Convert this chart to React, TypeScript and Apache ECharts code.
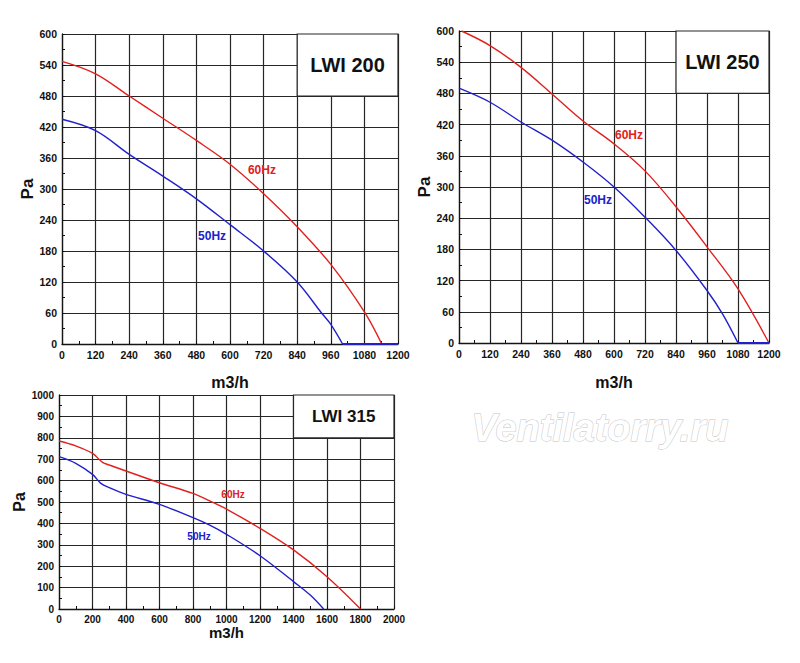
import React, { useEffect, useRef } from "react";
import * as echarts from "echarts";

const RED = "#e0211d";
const BLUE = "#2020cc";
const GRID_COLOR = "#262626";

// ---- LWI 200 ----
const lwi200Flow60 = [0, 120, 240, 360, 480, 600, 720, 840, 960, 1080, 1142];
const lwi200Pa60 = [547, 523, 480, 437, 394, 348, 291, 227, 154, 62, 0];
const lwi200Flow50 = [0, 120, 240, 360, 480, 600, 720, 840, 927, 960, 1002];
const lwi200Pa50 = [435, 413, 367, 325, 281, 231, 180, 120, 60, 38, 0];
const lwi200TailFlow50 = [1002, 1200];
const lwi200TailPa50 = [0, 0];
const lwi200Label60 = [714, 337];
const lwi200Label50 = [536, 209];

// ---- LWI 250 ----
const lwi250Flow60 = [10, 120, 240, 360, 480, 600, 720, 840, 960, 1080, 1200];
const lwi250Pa60 = [600, 572, 530, 479, 427, 383, 331, 262, 185, 104, 0];
const lwi250Flow50 = [0, 120, 240, 360, 480, 600, 720, 840, 960, 1020, 1080];
const lwi250Pa50 = [490, 463, 425, 390, 348, 300, 242, 178, 101, 56, 0];
const lwi250TailFlow50 = [1080, 1200];
const lwi250TailPa50 = [0, 0];
const lwi250Label60 = [658, 400];
const lwi250Label50 = [538, 275];

// ---- LWI 315 ----
const lwi315Flow60 = [0, 100, 200, 260, 300, 400, 600, 800, 900, 1000, 1200, 1400, 1600, 1800];
const lwi315Pa60 = [785, 762, 727, 685, 673, 645, 590, 540, 505, 467, 377, 276, 151, 0];
const lwi315Flow50 = [0, 100, 200, 250, 300, 400, 600, 800, 900, 1000, 1200, 1400, 1500, 1580];
const lwi315Pa50 = [712, 681, 629, 587, 567, 536, 489, 427, 392, 349, 249, 128, 65, 0];
const lwi315Label60 = [1039, 533];
const lwi315Label50 = [836, 341];

// ---- axes ----
const xMax = [1200, 1200, 2000];
const xInterval = [120, 120, 200];
const yMax = [600, 600, 1000];
const yInterval = [60, 60, 100];
const titleBoxes = [
  { text: "LWI 200", x: [840, 1200], y: [480, 600] },
  { text: "LWI 250", x: [840, 1200], y: [480, 600] },
  { text: "LWI 315", x: [1400, 2000], y: [800, 1000] },
];

const SANS = "'Liberation Sans', Arial, sans-serif";

function pairs(xs: number[], ys: number[]) {
  return xs.map((x, i) => [x, ys[i]]);
}

export default function App() {
  const ref = useRef<HTMLDivElement>(null);

  useEffect(() => {
    if (!ref.current) return;
    const chart = echarts.init(ref.current, undefined, { renderer: "svg" });

    const grids = [
      { left: 62, top: 34, width: 336, height: 310 },
      { left: 459, top: 31, width: 310, height: 312 },
      { left: 59, top: 395, width: 335, height: 214 },
    ].map((g) => ({ ...g, show: false }));

    const tickFontSize = [10.5, 10.5, 10];
    const nameFont = [16, 16, 15];
    const xNameGap = [30, 31, 15];
    const yNameGap = [21, 23, 30];

    const xAxes = [0, 1, 2].map((i) => ({
      type: "value",
      gridIndex: i,
      z: 0,
      zlevel: 0,
      min: 0,
      max: xMax[i],
      interval: xInterval[i],
      name: "m3/h",
      nameLocation: "middle",
      nameGap: xNameGap[i],
      nameTextStyle: { fontFamily: SANS, fontWeight: "bold", fontSize: nameFont[i], color: "#111" },
      axisLine: { show: true, onZero: false, lineStyle: { color: "#151515", width: 1.3 } },
      axisTick: { show: true, inside: true, length: 3, lineStyle: { color: "#111" } },
      minorTick: { show: true, splitNumber: 2, length: 3, lineStyle: { color: "#111", width: 1 } },
      axisLabel: {
        fontFamily: SANS,
        fontSize: tickFontSize[i],
        fontWeight: "bold",
        color: "#111",
        margin: 5,
        formatter: (v: number) => String(v),
      },
      splitLine: { show: true, lineStyle: { color: GRID_COLOR, width: 1.2 } },
    }));

    const yAxes = [0, 1, 2].map((i) => ({
      type: "value",
      gridIndex: i,
      z: 0,
      zlevel: 0,
      min: 0,
      max: yMax[i],
      interval: yInterval[i],
      name: "Pa",
      nameLocation: "middle",
      nameGap: yNameGap[i],
      nameTextStyle: { fontFamily: SANS, fontWeight: "bold", fontSize: nameFont[i] + 1, color: "#111" },
      axisLine: { show: true, lineStyle: { color: "#151515", width: 1.3 } },
      axisTick: { show: true, inside: true, length: 3, lineStyle: { color: "#111" } },
      minorTick: { show: true, splitNumber: 2, length: 3, lineStyle: { color: "#111", width: 1 } },
      axisLabel: {
        fontFamily: SANS,
        fontSize: tickFontSize[i],
        fontWeight: "bold",
        color: "#111",
        margin: 5,
        formatter: (v: number) => String(v),
      },
      splitLine: { show: true, showMinLine: false, lineStyle: { color: GRID_COLOR, width: 1.2 } },
    }));

    const labelFont = [12, 12, 10];
    const titleFont = [20, 20, 17];

    const curve = (
      idx: number,
      data: number[][],
      color: string,
      label: number[] | null,
      labelText: string,
      withBox: boolean
    ): any => {
      const s: any = {
        type: "line",
        xAxisIndex: idx,
        yAxisIndex: idx,
        data,
        smooth: 0.35,
        symbol: "none",
        lineStyle: { color, width: 1.4 },
        itemStyle: { color },
        clip: false,
        z: 3,
      };
      if (label) {
        s.markPoint = {
          symbol: "circle",
          symbolSize: 0,
          data: [
            {
              coord: label,
              label: {
                show: true,
                position: "inside",
                formatter: labelText,
                color,
                fontFamily: SANS,
                fontWeight: "bold",
                fontSize: labelFont[idx],
              },
            },
          ],
        };
      }
      if (withBox) {
        const b = titleBoxes[idx];
        s.markArea = {
          silent: true,
          itemStyle: { color: "#ffffff", opacity: 1, borderColor: GRID_COLOR, borderWidth: 1.2 },
          label: {
            show: true,
            position: "inside",
            formatter: b.text,
            color: "#111",
            fontWeight: "bold",
            fontFamily: SANS,
            fontSize: titleFont[idx],
          },
          data: [[{ xAxis: b.x[0], yAxis: b.y[0] }, { xAxis: b.x[1], yAxis: b.y[1] }]],
        };
      }
      return s;
    };

    const tail = (idx: number, xs: number[], ys: number[], color: string): any => ({
      type: "line",
      xAxisIndex: idx,
      yAxisIndex: idx,
      data: pairs(xs, ys),
      symbol: "none",
      clip: false,
      zlevel: 1,
      z: 20,
      lineStyle: { color, width: 2 },
    });

    const series = [
      curve(0, pairs(lwi200Flow60, lwi200Pa60), RED, lwi200Label60, "60Hz", true),
      curve(0, pairs(lwi200Flow50, lwi200Pa50), BLUE, lwi200Label50, "50Hz", false),
      tail(0, lwi200TailFlow50, lwi200TailPa50, BLUE),
      curve(1, pairs(lwi250Flow60, lwi250Pa60), RED, lwi250Label60, "60Hz", true),
      curve(1, pairs(lwi250Flow50, lwi250Pa50), BLUE, lwi250Label50, "50Hz", false),
      tail(1, lwi250TailFlow50, lwi250TailPa50, BLUE),
      curve(2, pairs(lwi315Flow60, lwi315Pa60), RED, lwi315Label60, "60Hz", true),
      curve(2, pairs(lwi315Flow50, lwi315Pa50), BLUE, lwi315Label50, "50Hz", false),
    ];

    chart.setOption({
      animation: false,
      backgroundColor: "#ffffff",
      grid: grids,
      xAxis: xAxes,
      yAxis: yAxes,
      series,
      graphic: [
        {
          type: "text",
          left: 471,
          top: 408,
          silent: true,
          style: {
            text: "Ventilatorry.ru",
            font: "italic bold 38px 'Liberation Sans', Arial, sans-serif",
            fill: "#ffffff",
            stroke: "#c4c4c4",
            lineWidth: 1,
          },
        },
      ],
    });

    return () => chart.dispose();
  }, []);

  return (
    <div
      ref={ref}
      style={{ position: "absolute", left: 0, top: 0, width: 800, height: 663, background: "#fff" }}
    />
  );
}
